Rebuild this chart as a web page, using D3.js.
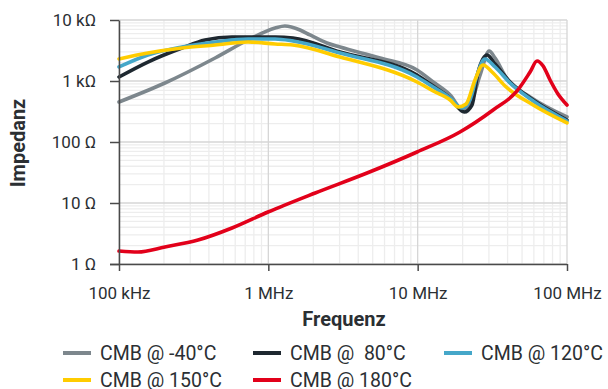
<!DOCTYPE html>
<html><head><meta charset="utf-8">
<script src="https://cdn.jsdelivr.net/npm/d3@7"></script>
<style>
body{margin:0;background:#fff;}
svg{font-family:Roboto,"Noto Sans",sans-serif;}
text{white-space:pre;}
</style></head>
<body><svg id="c" width="608" height="389"></svg>
<script>
const xTickValues = [1e5, 1e6, 1e7, 1e8];
const xTickLabels = ["100 kHz", "1 MHz", "10 MHz", "100 MHz"];
const yTickValues = [1, 10, 100, 1000, 10000];
const yTickLabels = ["1 Ω", "10 Ω", "100 Ω", "1 kΩ", "10 kΩ"];
const seriesNames = ["CMB @ -40°C", "CMB @  80°C", "CMB @ 120°C", "CMB @ 150°C", "CMB @ 180°C"];
const seriesColors = ["#7d878d", "#1e2830", "#45a7c9", "#ffcc00", "#e2001a"];

const freqM40 = [1e5, 2.03e5, 4.4e5, 7.31e5, 1.11e6, 1.29e6, 1.63e6, 1.9e6, 2.47e6, 3.02e6, 5.6e6, 9.9e6, 1.27e7, 1.65e7, 2.01e7, 2.24e7, 2.62e7, 3.01e7, 3.3e7, 3.97e7, 5.66e7, 1e8];
const zM40    = [453, 927, 2383, 4700, 7390, 7980, 6860, 5680, 4200, 3600, 2383, 1515, 963, 590, 335, 404, 1254, 3100, 2383, 1079, 547, 257];

const freq80 = [1e5, 1.56e5, 2.64e5, 3.77e5, 5.71e5, 1.11e6, 1.46e6, 3.02e6, 9.9e6, 1.27e7, 1.65e7, 2.05e7, 2.31e7, 2.54e7, 2.92e7, 3.3e7, 4.16e7, 5.93e7, 1e8];
const z80    = [1164, 2048, 3475, 4700, 5260, 5260, 5070, 2987, 1254, 828, 526, 310, 404, 1405, 2668, 1900, 963, 488, 229];

const freq120 = [1e5, 1.56e5, 2.64e5, 4.4e5, 7.31e5, 1.11e6, 1.46e6, 3.02e6, 9.9e6, 1.27e7, 1.65e7, 1.98e7, 2.24e7, 2.5e7, 2.82e7, 3.3e7, 4.16e7, 5.93e7, 1e8];
const z120    = [1698, 2668, 3608, 4357, 4886, 4886, 4527, 2877, 1164, 797, 526, 361, 488, 1254, 2296, 1698, 927, 470, 221];

const freq150 = [1e5, 1.56e5, 2.64e5, 4.4e5, 7.31e5, 1.11e6, 1.46e6, 3.02e6, 9.9e6, 1.27e7, 1.65e7, 1.87e7, 2.11e7, 2.42e7, 2.74e7, 3.15e7, 3.85e7, 5.93e7, 1e8];
const z150    = [2296, 2877, 3475, 3890, 4357, 4045, 3890, 2473, 963, 686, 488, 375, 420, 1038, 1829, 1405, 828, 404, 205];

const freq180 = [1e5, 1.34e5, 2.03e5, 3.38e5, 5.71e5, 9.95e5, 2.06e6, 4.58e6, 9.9e6, 1.92e7, 3.2e7, 4.63e7, 5.66e7, 6.3e7, 6.92e7, 7.7e7, 8.7e7, 1e8];
const z180    = [1.63, 1.57, 1.9, 2.47, 3.89, 7.12, 14.6, 31, 68.6, 146, 335, 686, 1405, 2128, 1762, 1038, 612, 404];

const seriesFreq = [freqM40, freq80, freq120, freq150, freq180];
const seriesZ = [zM40, z80, z120, z150, z180];

const svg = d3.select("#c");
const L = 119, R = 567, T = 20, B = 264;
const x = d3.scaleLog().domain([1e5, 1e8]).range([L, R]);
const y = d3.scaleLog().domain([1, 1e4]).range([B, T]);

// grid
const minorX = [], minorY = [];
for (let d = 5; d < 8; d++) for (let k = 2; k <= 9; k++) minorX.push(k * Math.pow(10, d));
for (let d = 0; d < 4; d++) for (let k = 2; k <= 9; k++) minorY.push(k * Math.pow(10, d));
const g = svg.append("g");
g.selectAll(".mx").data(minorX).join("line").attr("x1", d => x(d)).attr("x2", d => x(d)).attr("y1", T).attr("y2", B).attr("stroke", "#ededed").attr("stroke-width", 1.3);
g.selectAll(".my").data(minorY).join("line").attr("y1", d => y(d)).attr("y2", d => y(d)).attr("x1", L).attr("x2", R).attr("stroke", "#ededed").attr("stroke-width", 1.3);
g.selectAll(".Mx").data(xTickValues).join("line").attr("x1", d => x(d)).attr("x2", d => x(d)).attr("y1", T).attr("y2", B).attr("stroke", "#d6d6d6").attr("stroke-width", 1.3);
g.selectAll(".My").data(yTickValues).join("line").attr("y1", d => y(d)).attr("y2", d => y(d)).attr("x1", L).attr("x2", R).attr("stroke", "#d6d6d6").attr("stroke-width", 1.3);

// lines
const line = d3.line().x(d => x(d[0])).y(d => y(d[1])).curve(d3.curveMonotoneX);
seriesFreq.forEach((fs, i) => {
  const pts = fs.map((f, j) => [f, seriesZ[i][j]]);
  svg.append("path").datum(pts).attr("d", line).attr("fill", "none")
    .attr("stroke", seriesColors[i]).attr("stroke-width", 3.6).attr("stroke-linejoin", "round").attr("stroke-linecap", "round");
});

// axes
const ax = svg.append("g").attr("transform", `translate(0,${B})`)
  .call(d3.axisBottom(x).tickValues(xTickValues).tickFormat((d, i) => xTickLabels[i]).tickSize(7).tickPadding(16).tickSizeOuter(0));
const ay = svg.append("g").attr("transform", `translate(${L},0)`)
  .call(d3.axisLeft(y).tickValues(yTickValues).tickFormat((d, i) => yTickLabels[i]).tickSize(9).tickPadding(14).tickSizeOuter(0));
[ax, ay].forEach(a => {
  a.select(".domain").attr("stroke", "#4a4a4a").attr("stroke-width", 1.5);
  a.selectAll(".tick line").attr("stroke", "#4a4a4a").attr("stroke-width", 1.5);
  a.selectAll("text").attr("fill", "#2b2f33").style("font-size", "17px").style("font-family", "Roboto, sans-serif");
});
ax.select(".domain").attr("d", `M${L - 9},0.5H${R}`);

// titles
svg.append("text").attr("x", 344).attr("y", 326).attr("text-anchor", "middle")
  .style("font-size", "20px").style("font-weight", "bold").attr("fill", "#2b2f33").text("Frequenz");
svg.append("text").attr("transform", "translate(25,143) rotate(-90)").attr("text-anchor", "middle")
  .style("font-size", "20px").style("font-weight", "bold").attr("fill", "#2b2f33").text("Impedanz");

// legend
const legX = [63, 253, 444];
const legY = [353, 380];
seriesNames.forEach((n, i) => {
  const cx = legX[i % 3], cy = legY[Math.floor(i / 3)];
  svg.append("line").attr("x1", cx).attr("x2", cx + 28).attr("y1", cy).attr("y2", cy)
    .attr("stroke", seriesColors[i]).attr("stroke-width", 4);
  svg.append("text").attr("x", cx + 37).attr("y", cy + 7).style("font-size", "19.5px")
    .attr("fill", "#2b2f33").text(n);
});
</script></body></html>
